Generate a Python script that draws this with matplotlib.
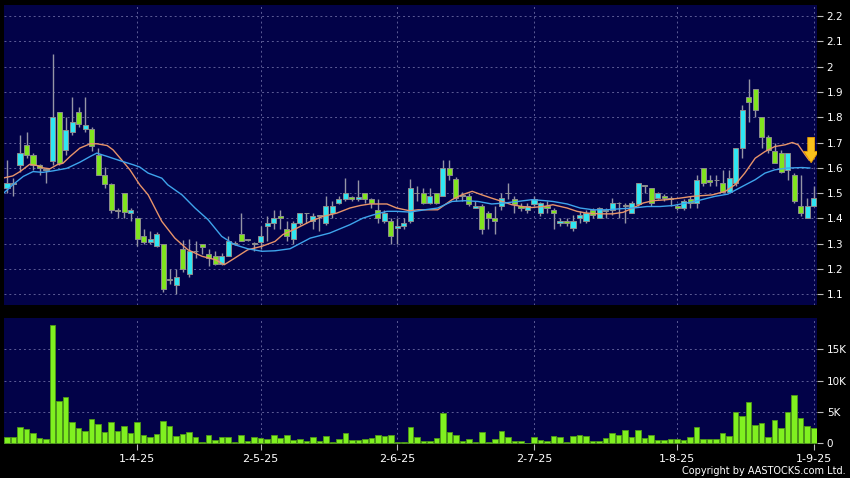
import matplotlib
matplotlib.use("Agg")
import matplotlib.pyplot as plt
from matplotlib.patches import FancyArrow
import numpy as np

# date labels and the candle index they sit on
date_labels = ["1-4-25", "2-5-25", "2-6-25", "2-7-25", "1-8-25", "1-9-25"]
date_pos = [20, 39, 60, 81, 103, 124]

opens = [1.52, 1.535, 1.61, 1.69, 1.65, 1.61, 1.59, 1.625, 1.82, 1.67,
         1.74, 1.82, 1.755, 1.755, 1.65, 1.57, 1.535, 1.435, 1.50, 1.42,
         1.40, 1.33, 1.305, 1.29, 1.30, 1.155, 1.135, 1.28, 1.18, 1.27,
         1.30, 1.26, 1.25, 1.22, 1.25, 1.30, 1.34, 1.315, 1.30, 1.305,
         1.368, 1.38, 1.41, 1.36, 1.32, 1.38, 1.42, 1.39, 1.41, 1.38,
         1.42, 1.46, 1.475, 1.485, 1.478, 1.50, 1.475, 1.435, 1.39, 1.39,
         1.362, 1.37, 1.39, 1.50, 1.50, 1.46, 1.50, 1.49, 1.60, 1.555,
         1.49, 1.49, 1.44, 1.45, 1.42, 1.40, 1.45, 1.50, 1.475, 1.45,
         1.435, 1.455, 1.42, 1.45, 1.432, 1.382, 1.388, 1.362, 1.40, 1.39,
         1.432, 1.40, 1.434, 1.432, 1.46, 1.45, 1.421, 1.455, 1.53, 1.52,
         1.48, 1.49, 1.48, 1.45, 1.44, 1.475, 1.46, 1.60, 1.553, 1.55,
         1.54, 1.505, 1.54, 1.68, 1.88, 1.91, 1.80, 1.72, 1.665, 1.66,
         1.59, 1.57, 1.45, 1.40, 1.45]
closes = [1.54, 1.54, 1.66, 1.65, 1.61, 1.60, 1.595, 1.80, 1.62, 1.75,
          1.78, 1.775, 1.77, 1.685, 1.57, 1.535, 1.435, 1.43, 1.425, 1.435,
          1.32, 1.305, 1.32, 1.34, 1.12, 1.16, 1.17, 1.20, 1.27, 1.27,
          1.285, 1.245, 1.22, 1.25, 1.31, 1.30, 1.31, 1.315, 1.30, 1.33,
          1.38, 1.40, 1.40, 1.33, 1.38, 1.42, 1.42, 1.41, 1.41, 1.45,
          1.45, 1.475, 1.50, 1.478, 1.483, 1.475, 1.46, 1.40, 1.42, 1.33,
          1.368, 1.38, 1.52, 1.50, 1.46, 1.49, 1.46, 1.60, 1.57, 1.48,
          1.49, 1.455, 1.45, 1.36, 1.40, 1.39, 1.48, 1.50, 1.455, 1.44,
          1.45, 1.475, 1.46, 1.44, 1.421, 1.391, 1.382, 1.391, 1.412, 1.42,
          1.414, 1.44, 1.428, 1.46, 1.46, 1.45, 1.46, 1.54, 1.53, 1.46,
          1.50, 1.48, 1.475, 1.44, 1.47, 1.46, 1.55, 1.54, 1.543, 1.55,
          1.505, 1.56, 1.68, 1.83, 1.86, 1.83, 1.72, 1.67, 1.62, 1.585,
          1.66, 1.47, 1.42, 1.45, 1.48]
highs = [1.63, 1.56, 1.73, 1.74, 1.66, 1.615, 1.60, 2.05, 1.82, 1.80,
         1.88, 1.84, 1.88, 1.76, 1.68, 1.605, 1.54, 1.44, 1.50, 1.44,
         1.40, 1.36, 1.35, 1.345, 1.30, 1.20, 1.20, 1.315, 1.32, 1.31,
         1.30, 1.28, 1.27, 1.265, 1.33, 1.31, 1.42, 1.32, 1.305, 1.37,
         1.41, 1.435, 1.435, 1.39, 1.39, 1.42, 1.42, 1.42, 1.415, 1.49,
         1.47, 1.49, 1.56, 1.49, 1.55, 1.50, 1.48, 1.475, 1.435, 1.40,
         1.40, 1.40, 1.555, 1.53, 1.52, 1.52, 1.50, 1.63, 1.63, 1.565,
         1.505, 1.50, 1.47, 1.455, 1.43, 1.45, 1.50, 1.54, 1.49, 1.46,
         1.46, 1.49, 1.465, 1.467, 1.44, 1.40, 1.40, 1.415, 1.43, 1.435,
         1.44, 1.445, 1.44, 1.48, 1.465, 1.46, 1.47, 1.54, 1.53, 1.52,
         1.505, 1.495, 1.49, 1.455, 1.475, 1.49, 1.57, 1.60, 1.57, 1.57,
         1.59, 1.59, 1.68, 1.85, 1.95, 1.91, 1.80, 1.73, 1.70, 1.67,
         1.66, 1.58, 1.57, 1.48, 1.53]
lows = [1.50, 1.49, 1.585, 1.64, 1.59, 1.57, 1.54, 1.61, 1.61, 1.65,
        1.73, 1.76, 1.74, 1.665, 1.57, 1.52, 1.42, 1.40, 1.40, 1.39,
        1.29, 1.30, 1.30, 1.285, 1.11, 1.14, 1.10, 1.19, 1.17, 1.245,
        1.26, 1.21, 1.215, 1.215, 1.25, 1.295, 1.31, 1.31, 1.27, 1.28,
        1.31, 1.36, 1.36, 1.31, 1.30, 1.375, 1.38, 1.36, 1.35, 1.375,
        1.40, 1.455, 1.47, 1.47, 1.47, 1.46, 1.44, 1.38, 1.38, 1.30,
        1.30, 1.36, 1.38, 1.47, 1.455, 1.455, 1.455, 1.49, 1.55, 1.47,
        1.47, 1.45, 1.44, 1.34, 1.36, 1.34, 1.435, 1.475, 1.42, 1.43,
        1.42, 1.45, 1.41, 1.42, 1.36, 1.37, 1.37, 1.35, 1.38, 1.38,
        1.40, 1.40, 1.40, 1.415, 1.40, 1.38, 1.42, 1.45, 1.50, 1.45,
        1.475, 1.47, 1.45, 1.435, 1.435, 1.44, 1.44, 1.53, 1.53, 1.53,
        1.50, 1.50, 1.53, 1.64, 1.78, 1.80, 1.68, 1.66, 1.62, 1.58,
        1.55, 1.46, 1.41, 1.40, 1.45]
volumes = [950, 1060, 2550, 2290, 1600, 800, 690, 18900, 6800, 7450,
           3460, 2390, 2020, 3830, 3030, 1760, 3460, 2020, 2770, 1700,
           3460, 1330, 1060, 1490, 3560, 2770, 1170, 1490, 1810, 960,
           270, 1280, 530, 960, 960, 160, 1280, 320, 960, 850,
           640, 1380, 850, 1380, 590, 740, 370, 960, 430, 1170,
           270, 740, 1600, 590, 590, 690, 800, 1380, 1120, 1330,
           270, 270, 2550, 1010, 370, 430, 800, 4890, 1760, 1280,
           430, 640, 270, 1860, 270, 740, 1970, 960, 430, 430,
           110, 960, 530, 370, 1220, 1060, 160, 1170, 1330, 1120,
           430, 430, 900, 1600, 1280, 2070, 1010, 2130, 850, 1380,
           590, 590, 690, 740, 480, 960, 2610, 690, 690, 690,
           1600, 1220, 4950, 4360, 6650, 2870, 3190, 1060, 3780, 2500,
           4950, 7710, 3990, 2710, 2390]

# moving averages (candle index, price)
ma10_pos = [-0.5, 0.9, 2.0, 3.5, 4.6, 5.5, 6.6, 7.7, 8.6, 9.7, 11.2, 12.8, 13.8,
            15.4, 16.3, 17.4, 18.9, 20.4, 21.7, 23.8, 25.8, 27.8, 30.0, 32.0,
            33.4, 35.0, 37.0, 39.2, 41.2, 42.4, 44.6, 46.6, 48.6, 50.7, 52.7,
            54.3, 55.8, 58.4, 59.9, 61.9, 63.2, 66.2, 68.4, 69.9, 71.5, 73.0,
            74.5, 76.1, 77.6, 79.2, 80.7, 82.7, 83.9, 86.1, 87.6, 89.1, 91.1,
            93.1, 94.7, 96.2, 97.8, 99.3, 101.4, 103.4, 105.3, 108.4, 110.4,
            111.9, 113.4, 115.0, 116.5, 118.0, 119.6, 120.7, 121.6, 122.7, 123.3]
ma10 = [1.56, 1.568, 1.585, 1.614, 1.609, 1.60, 1.596, 1.612, 1.618, 1.645, 1.678,
        1.695, 1.695, 1.688, 1.671, 1.638, 1.592, 1.533, 1.493, 1.388, 1.322,
        1.276, 1.25, 1.237, 1.217, 1.243, 1.276, 1.29, 1.309, 1.336, 1.362,
        1.388, 1.408, 1.421, 1.441, 1.451, 1.457, 1.457, 1.441, 1.43, 1.434,
        1.434, 1.474, 1.493, 1.507, 1.493, 1.48, 1.467, 1.454, 1.447, 1.443,
        1.448, 1.454, 1.441, 1.428, 1.421, 1.418, 1.418, 1.424, 1.441, 1.461,
        1.47, 1.474, 1.48, 1.487, 1.493, 1.507, 1.533, 1.579, 1.638, 1.664,
        1.684, 1.691, 1.70, 1.691, 1.651, 1.63]
ma20_pos = [-0.5, 0.9, 2.5, 4.0, 5.5, 7.1, 9.2, 11.2, 12.8, 13.8, 15.4, 17.4,
            19.4, 20.4, 21.7, 23.8, 24.7, 26.9, 28.9, 30.9, 33.0, 35.0, 37.0,
            39.2, 41.2, 43.5, 46.6, 49.6, 52.7, 54.7, 56.3, 58.4, 59.9, 61.9,
            64.2, 66.2, 68.4, 70.4, 72.4, 74.5, 76.5, 78.5, 80.7, 82.7, 83.9,
            86.1, 88.1, 90.1, 92.2, 94.2, 96.2, 98.4, 100.4, 102.4, 105.7,
            108.8, 110.8, 113.0, 115.0, 116.5, 118.0, 120.0, 122.2, 123.4]
ma20 = [1.50, 1.533, 1.566, 1.585, 1.582, 1.588, 1.598, 1.622, 1.645, 1.658,
        1.645, 1.628, 1.612, 1.603, 1.579, 1.559, 1.533, 1.493, 1.441, 1.395,
        1.329, 1.296, 1.28, 1.27, 1.272, 1.28, 1.322, 1.342, 1.375, 1.401,
        1.414, 1.428, 1.428, 1.425, 1.434, 1.441, 1.467, 1.47, 1.467, 1.457,
        1.461, 1.467, 1.474, 1.47, 1.467, 1.457, 1.441, 1.434, 1.434, 1.438,
        1.441, 1.447, 1.447, 1.451, 1.467, 1.487, 1.496, 1.526, 1.553, 1.579,
        1.592, 1.599, 1.601, 1.599]

# sell-signal marker
signal_pos = 123.6
signal_price = 1.62

price_ticks = [1.1, 1.2, 1.3, 1.4, 1.5, 1.6, 1.7, 1.8, 1.9, 2.0, 2.1, 2.2]
vol_ticks = [0, 5000, 10000, 15000]
vol_tick_labels = ["0", "5K", "10K", "15K"]

BG = "#020248"
UP = "#2fe6f2"
DOWN = "#80e41e"
GRID = "#5c5c96"
TXT = "#ffffff"

x = np.arange(len(opens))
o = np.array(opens)
c = np.array(closes)
h = np.array(highs)
l = np.array(lows)

fig = plt.figure(figsize=(8.5, 4.78), dpi=100, facecolor="black")
ax = fig.add_axes([4 / 850, 1 - 305 / 478, 813 / 850, 300 / 478])
axv = fig.add_axes([4 / 850, 1 - 444 / 478, 813 / 850, 126 / 478], sharex=ax)

for a in (ax, axv):
    a.set_facecolor(BG)
    for s in a.spines.values():
        s.set_visible(False)
    a.grid(True, color=GRID, linestyle=(0, (2, 3)), linewidth=0.7)
    a.set_axisbelow(True)
    a.yaxis.tick_right()
    a.tick_params(axis="y", colors="#bbbbbb", labelcolor=TXT, length=4,
                  width=0.8, pad=3, labelsize=7.5)

# candles
colors = np.where(c > o, UP, np.where(c < o, DOWN, "#a8a8a8"))
ax.vlines(x, l, h, color="#9595a5", linewidth=1, zorder=2)
body_h = np.maximum(np.abs(c - o), 0.002)
ax.bar(x, body_h, bottom=np.minimum(o, c), width=0.78, color=colors,
       edgecolor="#8d8d8d", linewidth=0.7, zorder=3)

ax.plot(ma10_pos, ma10, color="#e8946a", linewidth=1.0, zorder=4)
ax.plot(ma20_pos, ma20, color="#3ea4ec", linewidth=1.0, zorder=4)

ax.add_patch(FancyArrow(signal_pos, signal_price + 0.1, 0, -0.1, width=1.05,
                        head_width=2.3, head_length=0.045,
                        length_includes_head=True, color="#f9c21c",
                        ec="#e89a00", linewidth=0.6, zorder=5))

ax.set_ylim(1.0577, 2.2435)
ax.set_yticks(price_ticks)
ax.set_yticklabels([f"{p:g}" for p in price_ticks])
ax.set_xlim(-0.46, 124.5)
ax.set_xticks(date_pos)
ax.tick_params(axis="x", length=0, labelbottom=False)

# volume
axv.bar(x, volumes, width=0.85, color="#80f020", edgecolor="#4f9a16",
        linewidth=0.6, zorder=3)
axv.set_ylim(-100, 20000)
axv.set_yticks(vol_ticks)
axv.set_yticklabels(vol_tick_labels)
axv.set_xticks(date_pos)
axv.set_xticklabels(date_labels)
axv.tick_params(axis="x", colors="#bbbbbb", labelcolor=TXT, length=4,
                width=0.8, pad=3, labelsize=8)

fig.text(846 / 850, 1 - 471 / 478, "Copyright by AASTOCKS.com Ltd.",
         color=TXT, fontsize=7, ha="right", va="center")

fig.savefig("out.png", dpi=100, facecolor="black")
